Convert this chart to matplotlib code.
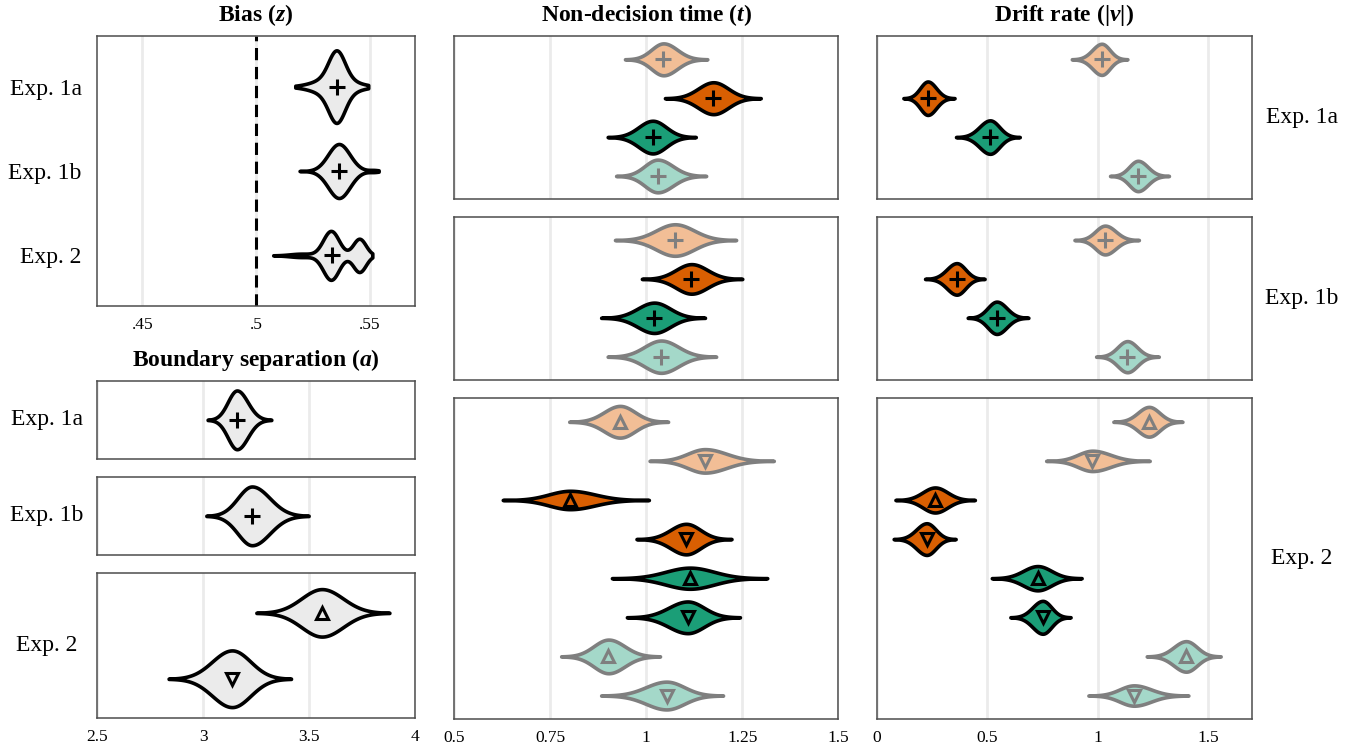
import numpy as np
import matplotlib

matplotlib.use("Agg")
import matplotlib.pyplot as plt

plt.rcParams["font.family"] = ["Liberation Serif", "DejaVu Serif"]
plt.rcParams["mathtext.fontset"] = "custom"
plt.rcParams["mathtext.rm"] = "Liberation Serif"
plt.rcParams["mathtext.it"] = "Liberation Serif:italic"
plt.rcParams["mathtext.bf"] = "Liberation Serif:bold"
plt.rcParams["mathtext.bfit"] = "Liberation Serif:bold:italic"

EXP_LABELS = ["Exp. 1a", "Exp. 1b", "Exp. 2"]

# condition colours (light orange, dark orange, dark green, light green)
COND_FILL = ["#F2BE96", "#D95F02", "#1B9E77", "#A4D8C9"]
COND_EDGE = ["#7F7F7F", "black", "black", "#7F7F7F"]

# ---- bias (z): one violin per experiment, multimodal shapes
BIAS_MEAN = [0.5355, 0.5365, 0.5335]
BIAS_LO = [0.5173, 0.5192, 0.5076]
BIAS_HI = [0.5494, 0.5540, 0.5512]
BIAS_PEAK = [0.43, 0.32, 0.29]
BIAS_MODES = [
    [(0.5355, 0.0035, 1.0), (0.5345, 0.0080, 0.35)],
    [(0.5365, 0.0048, 1.0), (0.5520, 0.0022, 0.035)],
    [(0.5330, 0.0035, 1.0), (0.5455, 0.0028, 0.68), (0.5200, 0.0050, 0.07)],
]

# ---- boundary separation (a)
A_1A_MEAN, A_1A_LO, A_1A_HI, A_1A_PEAK = [3.160], [3.022], [3.322], [0.45]
A_1B_MEAN, A_1B_LO, A_1B_HI, A_1B_PEAK = [3.231], [3.016], [3.498], [0.45]
A_2_MEAN = [3.561, 3.137]
A_2_LO = [3.252, 2.838]
A_2_HI = [3.879, 3.415]
A_2_PEAK = [0.36, 0.43]

# ---- non-decision time (t)
T_1A_MEAN = [1.045, 1.175, 1.017, 1.030]
T_1A_LO = [0.945, 1.049, 0.900, 0.922]
T_1A_HI = [1.159, 1.298, 1.129, 1.156]
T_1A_PEAK = [0.41, 0.41, 0.42, 0.42]

T_1B_MEAN = [1.075, 1.118, 1.021, 1.039]
T_1B_LO = [0.919, 0.989, 0.883, 0.900]
T_1B_HI = [1.234, 1.250, 1.153, 1.182]
T_1B_PEAK = [0.405, 0.38, 0.39, 0.415]

T_2_MEAN = [0.932, 1.153, 0.802, 1.104, 1.114, 1.108, 0.902, 1.053]
T_2_LO = [0.800, 1.009, 0.627, 0.975, 0.911, 0.950, 0.779, 0.883]
T_2_HI = [1.057, 1.332, 1.007, 1.222, 1.315, 1.244, 1.036, 1.200]
T_2_PEAK = [0.405, 0.30, 0.235, 0.39, 0.27, 0.405, 0.43, 0.355]

# ---- drift rate (|v|)
V_1A_MEAN = [1.018, 0.231, 0.513, 1.182]
V_1A_LO = [0.883, 0.121, 0.359, 1.056]
V_1A_HI = [1.134, 0.352, 0.647, 1.322]
V_1A_PEAK = [0.40, 0.43, 0.43, 0.39]

V_1B_MEAN = [1.033, 0.362, 0.543, 1.134]
V_1B_LO = [0.895, 0.219, 0.412, 0.993]
V_1B_HI = [1.186, 0.488, 0.686, 1.276]
V_1B_PEAK = [0.37, 0.405, 0.415, 0.40]

V_2_MEAN = [1.232, 0.976, 0.264, 0.226, 0.728, 0.751, 1.400, 1.164]
V_2_LO = [1.071, 0.767, 0.085, 0.077, 0.521, 0.605, 1.222, 0.958]
V_2_HI = [1.383, 1.235, 0.444, 0.357, 0.927, 0.877, 1.556, 1.410]
V_2_PEAK = [0.38, 0.26, 0.32, 0.405, 0.31, 0.42, 0.39, 0.26]

W, H = 1353, 753
GRID = "#EBEBEB"
FRAME = "#4D4D4D"
LW = 2.6
LABEL_FS = 17
TICK_FS = 12.5


def rect(x0, y0, x1, y1):
    return [x0 / W, 1 - y1 / H, (x1 - x0) / W, (y1 - y0) / H]


def violin(ax, y, mean, lo, hi, peak, face, edge, marker, modes=None):
    x = np.linspace(lo, hi, 400)
    if modes is None:
        sd = np.where(x < mean, (mean - lo) / 3.2, (hi - mean) / 3.2)
        dens = np.exp(-0.5 * ((x - mean) / sd) ** 2)
    else:
        dens = sum(w * np.exp(-0.5 * ((x - m) / s) ** 2) for m, s, w in modes)
    dens = dens / dens.max() * peak
    ax.fill_between(x, y - dens, y + dens, facecolor=face, edgecolor=edge,
                    lw=LW, joinstyle="round", capstyle="round", zorder=3)
    mcol = edge
    if marker == "+":
        ax.plot(mean, y, marker="+", ms=12, mew=2.2, color=mcol, zorder=4)
    else:
        ax.plot(mean, y, marker=marker, ms=8, mew=2.2, mfc="none",
                mec=mcol, zorder=4)


def setup(ax, n, xlim, ticks, labels=None):
    ax.set_xlim(*xlim)
    ax.set_ylim(n + 0.6, 0.4)
    ax.set_xticks(ticks)
    ax.set_xticklabels(labels if labels is not None else [])
    ax.tick_params(axis="x", length=0, pad=8, labelsize=TICK_FS)
    ax.set_yticks([])
    ax.grid(axis="x", color=GRID, lw=2.0)
    ax.set_axisbelow(True)
    for sp in ax.spines.values():
        sp.set_color(FRAME)
        sp.set_linewidth(1.1)


def cond_panel(ax, means, los, his, peaks):
    n = len(means)
    exp2 = n == 8
    for i in range(n):
        c = i // 2 if exp2 else i
        mk = ("^" if i % 2 == 0 else "v") if exp2 else "+"
        violin(ax, i + 1, means[i], los[i], his[i], peaks[i],
               COND_FILL[c], COND_EDGE[c], mk)


fig = plt.figure(figsize=(W / 100, H / 100), dpi=100)

# ---- left column: bias
ax_z = fig.add_axes(rect(97, 36, 415, 306))
setup(ax_z, 3, (0.43, 0.57), [0.45, 0.5, 0.55], [".45", ".5", ".55"])
ax_z.axvline(0.5, color="black", lw=2.2, ls=(0, (4.0, 2.2)), zorder=2)
for i in range(3):
    violin(ax_z, i + 1, BIAS_MEAN[i], BIAS_LO[i], BIAS_HI[i], BIAS_PEAK[i],
           "#EBEBEB", "black", "+", modes=BIAS_MODES[i])
ax_z.set_yticks([1, 2, 3])
ax_z.set_yticklabels(EXP_LABELS)
ax_z.tick_params(axis="y", length=0, pad=11, labelsize=LABEL_FS)

# ---- left column: boundary separation
a_specs = [
    ((97, 380.7, 415, 459), A_1A_MEAN, A_1A_LO, A_1A_HI, A_1A_PEAK, ["+"]),
    ((97, 476.7, 415, 555), A_1B_MEAN, A_1B_LO, A_1B_HI, A_1B_PEAK, ["+"]),
    ((97, 573.3, 415, 718.3), A_2_MEAN, A_2_LO, A_2_HI, A_2_PEAK, ["^", "v"]),
]
for k, (box, mu, lo, hi, pk, mks) in enumerate(a_specs):
    ax = fig.add_axes(rect(*box))
    last = k == 2
    setup(ax, len(mu), (2.5, 4.0), [2.5, 3, 3.5, 4],
          ["2.5", "3", "3.5", "4"] if last else None)
    for i in range(len(mu)):
        violin(ax, i + 1, mu[i], lo[i], hi[i], pk[i], "#EBEBEB", "black", mks[i])
    ax.text((47 - 97) / 318, 0.5, EXP_LABELS[k], transform=ax.transAxes,
            ha="center", va="center", fontsize=LABEL_FS)

# ---- middle and right columns
rows_y = [(36, 199.3), (216.7, 380), (398.3, 719)]
t_data = [(T_1A_MEAN, T_1A_LO, T_1A_HI, T_1A_PEAK),
          (T_1B_MEAN, T_1B_LO, T_1B_HI, T_1B_PEAK),
          (T_2_MEAN, T_2_LO, T_2_HI, T_2_PEAK)]
v_data = [(V_1A_MEAN, V_1A_LO, V_1A_HI, V_1A_PEAK),
          (V_1B_MEAN, V_1B_LO, V_1B_HI, V_1B_PEAK),
          (V_2_MEAN, V_2_LO, V_2_HI, V_2_PEAK)]

for k, (y0, y1) in enumerate(rows_y):
    last = k == 2
    ax_t = fig.add_axes(rect(454, y0, 838.3, y1))
    setup(ax_t, len(t_data[k][0]), (0.5, 1.5), [0.5, 0.75, 1, 1.25, 1.5],
          ["0.5", "0.75", "1", "1.25", "1.5"] if last else None)
    cond_panel(ax_t, *t_data[k])

    ax_v = fig.add_axes(rect(876.7, y0, 1252, y1))
    setup(ax_v, len(v_data[k][0]), (0, 1.698), [0, 0.5, 1, 1.5],
          ["0", "0.5", "1", "1.5"] if last else None)
    cond_panel(ax_v, *v_data[k])
    ax_v.text((1302 - 876.7) / 375.3, 0.5, EXP_LABELS[k], transform=ax_v.transAxes,
              ha="center", va="center", fontsize=LABEL_FS)

# ---- column titles
title_kw = dict(ha="center", va="center", fontsize=LABEL_FS, fontweight="bold")
fig.text(256 / W, 1 - 15 / H, r"Bias ($\mathbfit{z}$)", **title_kw)
fig.text(256 / W, 1 - 360 / H, r"Boundary separation ($\mathbfit{a}$)", **title_kw)
fig.text(646 / W, 1 - 15 / H, r"Non-decision time ($\mathbfit{t}$)", **title_kw)
fig.text(1064 / W, 1 - 15 / H, r"Drift rate (|$\mathbfit{v}$|)", **title_kw)

fig.savefig("out.png", dpi=100)
